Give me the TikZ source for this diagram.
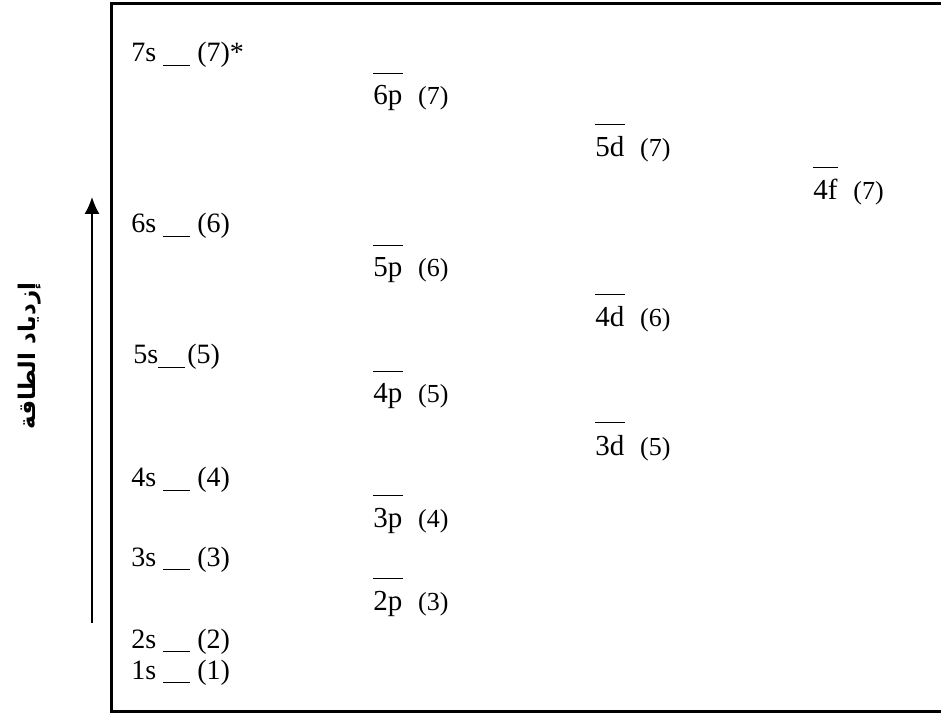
\documentclass[tikz,border=0pt]{standalone}
\usepackage{fontspec}
\setmainfont{Liberation Serif}
\newfontfamily\arabicfont[Script=Arabic]{DejaVu Sans}
\TeXXeTstate=1
\usetikzlibrary{arrows.meta}

\tikzset{
  slevel/.style={anchor=base west,inner sep=0pt,font=\fontsize{14}{16}\selectfont},
  orbit/.style={anchor=base west,inner sep=0pt,font=\fontsize{14.5}{17}\selectfont},
  occ/.style={anchor=base west,inner sep=0pt,font=\fontsize{13}{15}\selectfont},
  lvl/.style={line width=0.6pt},
}
\newcommand{\gapline}{\rule[-2pt]{13.5pt}{0.7pt}}

\begin{document}
\begin{tikzpicture}[x=0.5pt,y=-0.5pt]
\useasboundingbox (0,0) rectangle (941,715);
% frame, cut off on the right
\draw[line width=1.5pt] (941,4) -- (111,4) -- (111,711) -- (941,711);
% energy axis
\coordinate (arrbot) at (92,623);
\coordinate (arrtop) at (92,197);
\draw[line width=0.7pt,-{Latex[length=8.5pt,width=7.5pt]}] (arrbot) -- (arrtop);
\node[rotate=90,font=\fontsize{11.5}{14}\selectfont\bfseries] (axlabel) at (30,356)
  {\arabicfont\beginR إزدياد الطاقة\endR};
% s levels
\node[slevel] (s7) at (131,62) {7s \gapline\ (7)*};
\node[slevel] (s5) at (133,364) {5s\gapline\hspace{1pt}(5)};
\foreach \n/\y in {6/233,4/487,3/566,2/648,1/679}
  \node[slevel] (s\n) at (131,\y) {\n s \gapline\ (\n)};
% p, d, f levels
\foreach \nm/\x/\y/\k in {6p/373/105/7,5p/373/277/6,4p/373/403/5,3p/373/527/4,2p/373/610/3,
    5d/595/157/7,4d/595/327/6,3d/595/455/5,4f/813/200/7}{%
  \node[orbit] (o\nm) at (\x,\y) {\nm};
  \draw[lvl] ([yshift=6pt]o\nm.north west) -- ([yshift=6pt]o\nm.north east);
  \node[occ] (n\nm) at ([xshift=7.5pt]o\nm.base east) {(\k)};
}
\end{tikzpicture}
\end{document}
